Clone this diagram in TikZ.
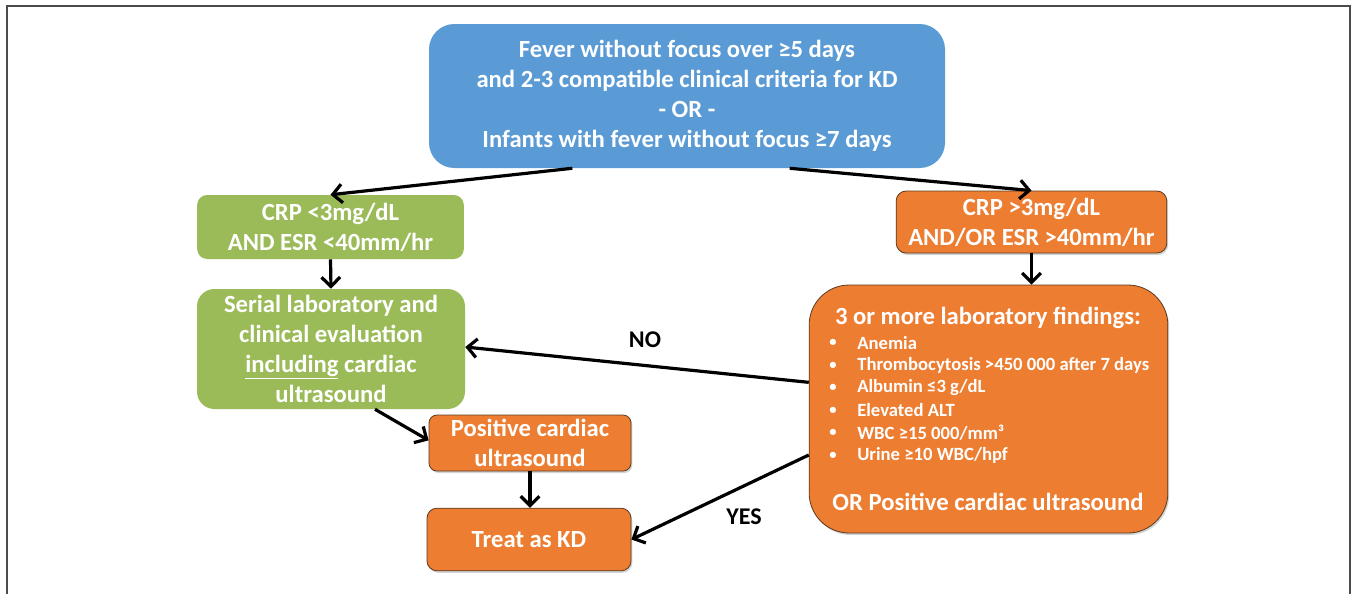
\documentclass[tikz,border=0pt]{standalone}
\usepackage{fontspec}
\setmainfont{Carlito}
\usetikzlibrary{arrows.meta,shadows}
\definecolor{kdblue}{HTML}{5B9BD5}
\definecolor{kdgreen}{HTML}{9BBB59}
\definecolor{kdorange}{HTML}{ED7D31}
\definecolor{kdedge}{HTML}{5A3A20}
\begin{document}
\begin{tikzpicture}[x=0.75pt,y=-0.75pt,
  box/.style={rectangle, text=white, font=\bfseries\fontsize{18.5}{22.5}\selectfont, align=center, inner sep=0pt},
  bluebox/.style={box, fill=kdblue, rounded corners=19pt},
  greenbox/.style={box, fill=kdgreen},
  orangebox/.style={box, fill=kdorange, draw=kdedge, line width=0.6pt,
    drop shadow={shadow xshift=1pt, shadow yshift=-1.5pt, opacity=0.35}},
  arr/.style={-{Straight Barb[length=7pt,width=14pt,line width=2.4pt]}, line width=2.4pt, black},
  lbl/.style={font=\bfseries\fontsize{18}{20}\selectfont, text=black},
  item/.style={anchor=west, text=white, font=\bfseries\fontsize{14}{16}\selectfont, inner sep=0pt}
]
\useasboundingbox (0,0) rectangle (1357,594);
\draw[line width=1.2pt, black!70] (7,594) -- (7,6) -- (1350,6) -- (1350,594);

\node[bluebox, minimum width=387pt, minimum height=108pt] (top) at (687,96)
  {Fever without focus over ≥5 days\\and 2-3 compatible clinical criteria for KD\\- OR -\\Infants with fever without focus ≥7 days};

\node[greenbox, rounded corners=7.5pt, minimum width=200pt, minimum height=48pt] (g1) at (330.5,227)
  {CRP <3mg/dL\\AND ESR <40mm/hr};
\node[greenbox, rounded corners=13pt, minimum width=201pt, minimum height=90pt] (g2) at (331,349)
  {Serial laboratory and\\clinical evaluation\\\underline{including} cardiac\\ultrasound};

\node[orangebox, rounded corners=7.5pt, minimum width=203pt, minimum height=46.5pt] (ocrp) at (1031.5,222)
  {CRP >3mg/dL\\AND/OR ESR >40mm/hr};

\node[orangebox, rounded corners=30pt, minimum width=269pt, minimum height=186pt] (big) at (988.5,409) {};
\node[box] (bighead) at (988,318) {3 or more laboratory findings:};
\node[item] (i1b) at (829,343) {\fontsize{11}{12}\selectfont •};
\node[item] (i1) at (857,343) {Anemia};
\node[item] (i2b) at (829,365.5) {\fontsize{11}{12}\selectfont •};
\node[item] (i2) at (857,365.5) {Thrombocytosis >450 000 after 7 days};
\node[item] (i3b) at (829,388) {\fontsize{11}{12}\selectfont •};
\node[item] (i3) at (857,388) {Albumin ≤3 g/dL};
\node[item] (i4b) at (829,410.5) {\fontsize{11}{12}\selectfont •};
\node[item] (i4) at (857,410.5) {Elevated ALT};
\node[item] (i5b) at (829,433) {\fontsize{11}{12}\selectfont •};
\node[item] (i5) at (857,433) {WBC ≥15 000/mm³};
\node[item] (i6b) at (829,455.5) {\fontsize{11}{12}\selectfont •};
\node[item] (i6) at (857,455.5) {Urine ≥10 WBC/hpf};
\node[box] (bigfoot) at (988,502) {OR Positive cardiac ultrasound};

\node[orangebox, rounded corners=6pt, minimum width=151.5pt, minimum height=42pt] (pos) at (530,443)
  {Positive cardiac\\ultrasound};
\node[orangebox, rounded corners=7.5pt, minimum width=153pt, minimum height=47pt] (treat) at (529,539.5)
  {Treat as KD};

\draw[arr] ([xshift=-86pt]top.south) -- (g1.north);
\draw[arr] ([xshift=77pt]top.south) -- (ocrp.north);
\draw[arr] (g1.south) -- (g2.north);
\draw[arr] (ocrp.south) -- (ocrp.south |- big.north);
\draw[arr] ([yshift=20pt]big.west) -- ([yshift=1.5pt]g2.east);
\draw[arr] ([xshift=33pt]g2.south) -- ([yshift=2pt]pos.west);
\draw[arr] (pos.south) -- (pos.south |- treat.north);
\draw[arr] ([yshift=-34.5pt]big.west) -- (treat.east);

\node[lbl] (no) at (645,340) {NO};
\node[lbl] (yes) at (744,517) {YES};
\end{tikzpicture}
\end{document}
